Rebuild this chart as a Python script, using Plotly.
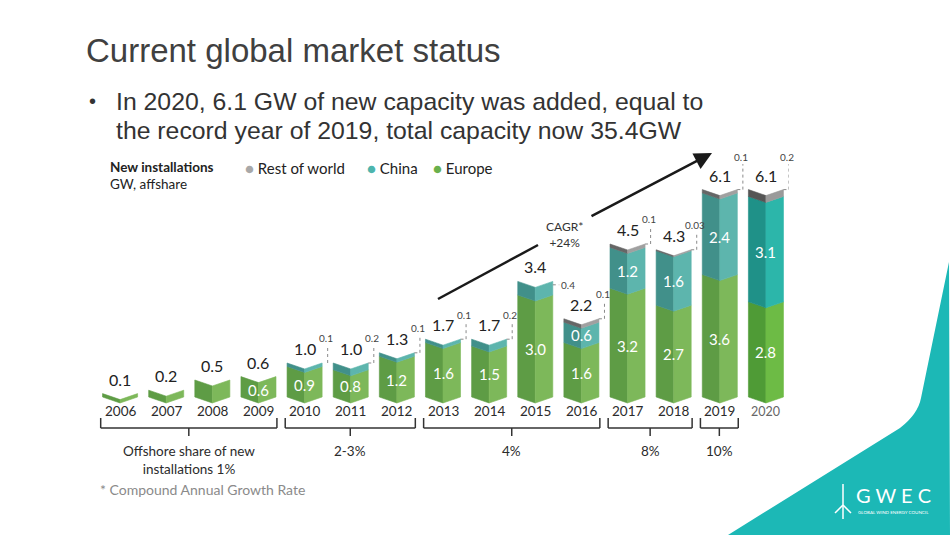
import plotly.graph_objects as go

# ---------------- data ----------------
years = list(range(2006, 2021))
europe = [0.1, 0.2, 0.5, 0.6, 0.9, 0.8, 1.2, 1.6, 1.5, 3.0, 1.6, 3.2, 2.7, 3.6, 2.8]
china = [0, 0, 0, 0, 0.1, 0.2, 0.1, 0.1, 0.2, 0.4, 0.6, 1.2, 1.6, 2.4, 3.1]
rest_of_world = [0, 0, 0, 0, 0, 0, 0, 0, 0, 0, 0.1, 0.1, 0.03, 0.1, 0.2]
totals = [0.1, 0.2, 0.5, 0.6, 1.0, 1.0, 1.3, 1.7, 1.7, 3.4, 2.2, 4.5, 4.3, 6.1, 6.1]
share_groups = [(2006, 2009, "Offshore share of new<br>installations 1%"),
                (2010, 2012, "2-3%"), (2013, 2016, "4%"),
                (2017, 2018, "8%"), (2019, 2019, "10%")]
title = "Current global market status"
bullet_lines = ["In 2020, 6.1 GW of new capacity was added, equal to",
                "the record year of 2019, total capacity now 35.4GW"]
cagr_text = "CAGR*<br>+24%"
footnote = "* Compound Annual Growth Rate"

# ---------------- helpers ----------------
W, H = 950, 535
def px(x):
    return x / W
def py(y):
    return 1 - y / H

FONT = "Lato"
HW = 0.38      # half bar width (years)
D = 0.176      # chevron depth (GW)

colors = {
    "normal": {"europe": ("#5e9c45", "#7db85a"), "china": ("#41908a", "#5db5ad"),
               "row": ("#666666", "#a0a0a0")},
    "last": {"europe": ("#4f9b36", "#6dbb45"), "china": ("#1f9188", "#2cb6aa"),
             "row": ("#555555", "#9a9a9a")},
}

fig = go.Figure()

# teal decoration (bottom right)
fig.add_shape(type="path", xref="paper", yref="paper", layer="below",
              path=("M {} {} L {} {} L {} {} L {} {} Q {} {} {} {} L {} {} Z").format(
                  px(949), py(262), px(950), py(535), px(728), py(535),
                  px(900), py(428), px(918), py(414), px(921), py(398),
                  px(949), py(262)),
              fillcolor="#1cb8b6", line=dict(width=0))

# build polygons
series = [("europe", europe), ("china", china), ("row", rest_of_world)]
polys = {}
for i, yr in enumerate(years):
    grp = "last" if yr == 2020 else "normal"
    base = 0.0
    for name, vals in series:
        v = vals[i]
        if v <= 0:
            continue
        b, t = base, base + v
        base = t
        for face in (0, 1):
            key = (grp, name, face)
            xs, ys = polys.setdefault(key, ([], []))
            if face == 0:
                xs += [yr - HW, yr, yr, yr - HW, yr - HW, None]
                ys += [b, b - D, t - D, t, b, None]
            else:
                xs += [yr, yr + HW, yr + HW, yr, yr, None]
                ys += [b - D, b, t, t - D, b - D, None]

for (grp, name, face), (xs, ys) in polys.items():
    c = colors[grp][name][face]
    fig.add_trace(go.Scatter(x=xs, y=ys, mode="lines", fill="toself",
                             fillcolor=c, line=dict(color=c, width=0.6),
                             hoverinfo="skip", showlegend=False))

annos = []
shapes = []

def note(x, y, text, xref="paper", yref="paper", xanchor="center", yanchor="middle",
         size=13, color="#222222", family=FONT, **kw):
    d = dict(x=x, y=y, xref=xref, yref=yref, text=text, showarrow=False,
             xanchor=xanchor, yanchor=yanchor,
             font=dict(family=family, size=size, color=color))
    d.update(kw)
    annos.append(d)

# year labels
for yr in years:
    note(yr, py(411), str(yr), xref="x",
         size=12.5 if yr == 2020 else 13.5,
         color="#666666" if yr == 2020 else "#2b2b2b")

# totals and inside labels
for i, yr in enumerate(years):
    top = europe[i] + china[i] + rest_of_world[i]
    note(yr, top, f"{totals[i]:.1f}", xref="x", yref="y", yanchor="bottom",
         size=16, color="#222222", yshift=3)
    if europe[i] >= 0.6:
        note(yr, europe[i] / 2 - D / 2, f"{europe[i]:.1f}", xref="x", yref="y",
             size=15, color="white")
    if china[i] >= 0.5:
        note(yr, europe[i] + china[i] / 2 - D / 2, f"{china[i]:.1f}", xref="x", yref="y",
             size=15, color="white")

# small outside labels with dotted leaders
side_label_years = [2015]
for i, yr in enumerate(years):
    if china[i] > 0 and china[i] < 0.5:
        v = china[i]
    elif rest_of_world[i] > 0:
        v = rest_of_world[i]
    else:
        continue
    top = europe[i] + china[i] + rest_of_world[i]
    dot = dict(color="#8a8a8a", width=1, dash="dot")
    if yr in side_label_years:
        shapes.append(dict(type="line", xref="x", yref="y", x0=yr + HW, x1=yr + 0.52,
                           y0=top - 0.1, y1=top - 0.1, line=dot))
        note(yr + 0.52, top - 0.1, f"{v:g}", xref="x", yref="y", xanchor="left",
             size=10, color="#444444")
    else:
        lead = 0.75 if top > 5.5 else 0.52
        shapes.append(dict(type="line", xref="x", yref="y", x0=yr + HW, x1=yr + 0.5,
                           y0=top, y1=top, line=dot))
        shapes.append(dict(type="line", xref="x", yref="y", x0=yr + 0.5, x1=yr + 0.5,
                           y0=top, y1=top + lead, line=dot))
        note(yr + 0.46, top + lead, f"{v:g}", xref="x", yref="y", yanchor="bottom",
             size=10, color="#444444", yshift=-1)

# share brackets
bc = "#333333"
for (a, b, label) in share_groups:
    x0, x1 = a - 0.42, b + 0.4
    xm = (x0 + x1) / 2
    for (xa, ya, xb, yb) in [(x0, 418, x0, 428), (x1, 418, x1, 428),
                             (x0, 428, x1, 428), (xm, 428, xm, 436)]:
        shapes.append(dict(type="line", xref="x", yref="paper", x0=xa, x1=xb,
                           y0=py(ya), y1=py(yb), line=dict(color=bc, width=1.5)))
    note(xm, py(441), label, xref="x", yanchor="top", size=13.5, color="#2b2b2b",
         align="center")

# CAGR arrow
shapes.append(dict(type="line", xref="paper", yref="paper", x0=px(438), y0=py(299),
                   x1=px(538), y1=py(245), line=dict(color="#1a1a1a", width=2.5)))
annos.append(dict(x=px(712), y=py(153), xref="paper", yref="paper", text="",
                  showarrow=True, ax=-122, ay=64, arrowhead=2, arrowsize=1.4,
                  arrowwidth=2.5, arrowcolor="#1a1a1a", standoff=0))
note(px(564), py(235), cagr_text, size=12, color="#333333", align="center")

# legend-like header
note(px(108), py(167), "<b>New installations</b>", xanchor="left", size=13.5)
note(px(108), py(184), "GW, affshare", xanchor="left", size=13.5)
legend_items = [("Rest of world", "#a8a8a8", 243), ("China", "#4db5ad", 365),
                ("Europe", "#6ab04c", 431)]
for name, col, xx in legend_items:
    note(px(xx), py(168), f"<span style='color:{col}'>●</span> {name}",
         xanchor="left", size=15)

# footnote
note(px(98), py(489), footnote, xanchor="left", size=14, color="#8a8a8a")

# title and bullets
note(px(84), py(50), title, xanchor="left", size=33, color="#404040",
     family="Liberation Sans")
note(px(87), py(101), "•", xanchor="left", size=20, color="#333333",
     family="Liberation Sans")
for k, line in enumerate(bullet_lines):
    note(px(114), py(101 + 29 * k), line, xanchor="left", size=24.8, color="#333333",
         family="Liberation Sans")

# GWEC logo
note(px(893), py(495), "G W E C", size=20, color="white", family="Lato")
note(px(893), py(512), "GLOBAL WIND ENERGY COUNCIL", size=4.5, color="white",
     family="Lato")
for (xa, ya, xb, yb) in [(843, 484, 843, 519), (843, 505, 835, 513), (843, 505, 851, 513)]:
    shapes.append(dict(type="line", xref="paper", yref="paper", x0=px(xa), y0=py(ya),
                       x1=px(xb), y1=py(yb), line=dict(color="white", width=1.5)))

fig.update_layout(
    width=W, height=H, margin=dict(l=0, r=0, t=0, b=0),
    paper_bgcolor="white", plot_bgcolor="rgba(0,0,0,0)",
    showlegend=False,
    xaxis=dict(domain=[px(97), px(789)], range=[2005.5, 2020.5], visible=False,
               fixedrange=True),
    yaxis=dict(domain=[py(431), py(159)], range=[-1, 7], visible=False, fixedrange=True),
    annotations=annos, shapes=shapes,
)

fig.write_html("out.html")
